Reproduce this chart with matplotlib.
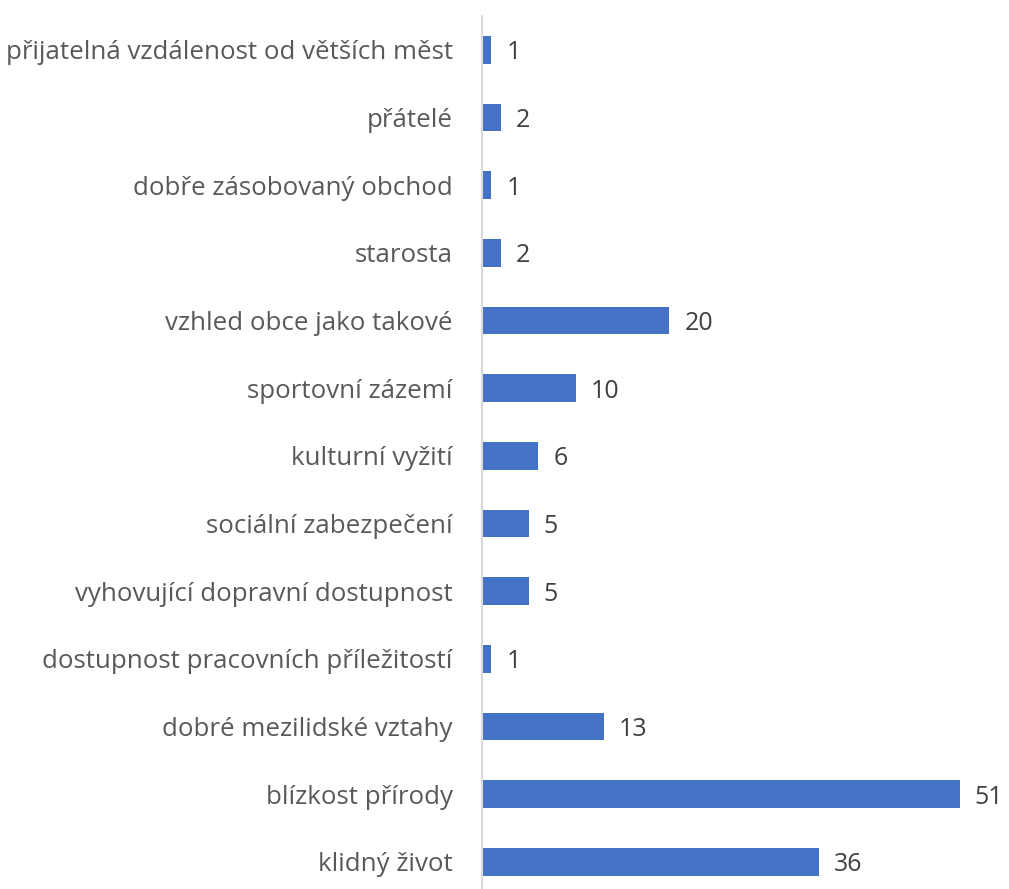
import matplotlib
matplotlib.use("Agg")
import matplotlib.pyplot as plt

# ── Data (bottom to top) ─────────────────────────────────────
categories = [
    "klidný život",
    "blízkost přírody",
    "dobré mezilidské vztahy",
    "dostupnost pracovních příležitostí",
    "vyhovující dopravní dostupnost",
    "sociální zabezpečení",
    "kulturní vyžití",
    "sportovní zázemí",
    "vzhled obce jako takové",
    "starosta",
    "dobře zásobovaný obchod",
    "přátelé",
    "přijatelná vzdálenost od větších měst",
]
values = [36, 51, 13, 1, 5, 5, 6, 10, 20, 2, 1, 2, 1]

BAR_COLOR = "#4472C4"
LABEL_COLOR = "#595959"
VALUE_COLOR = "#404040"

plt.rcParams["font.family"] = ["Open Sans", "DejaVu Sans"]

fig = plt.figure(figsize=(10.09, 8.89), dpi=100)
ax = fig.add_axes([482 / 1009, 0.0, 515 / 1009, 873 / 889])

ypos = list(range(len(categories)))
ax.barh(ypos, values, height=0.41, color=BAR_COLOR)

for y, v in zip(ypos, values):
    ax.text(v + 1.6, y, str(v), va="center_baseline", ha="left",
            fontsize=18, color=VALUE_COLOR)

ax.set_xlim(0, 55)
ax.set_ylim(-0.4, len(categories) - 0.5)
ax.set_yticks(ypos)
ax.set_yticklabels(categories, fontsize=18.6, color=LABEL_COLOR)
ax.tick_params(axis="y", length=0, pad=21)
ax.set_xticks([])

for s in ["top", "right", "bottom"]:
    ax.spines[s].set_visible(False)
ax.spines["left"].set_color("#D9D9D9")
ax.spines["left"].set_linewidth(1.5)

fig.savefig("out.png", dpi=100)
